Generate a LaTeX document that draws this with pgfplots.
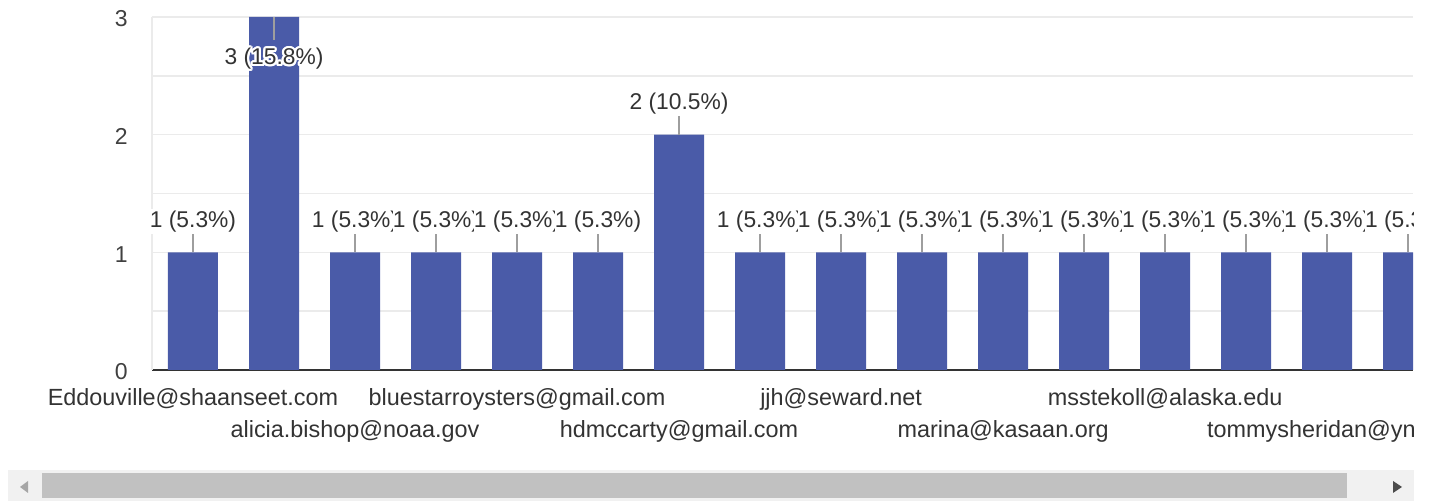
\documentclass[border=0pt]{standalone}
\usepackage{fontspec}
\setmainfont{Liberation Sans}
\usepackage{pgfplots}
\pgfplotsset{compat=1.18}
\usepackage{contour}
\contourlength{1.1pt}
\definecolor{barblue}{HTML}{4A5BA8}
\definecolor{gridgray}{HTML}{EBEBEB}
\definecolor{txt}{HTML}{333333}
\definecolor{leader}{HTML}{9E9E9E}
\definecolor{track}{HTML}{F1F1F1}
\definecolor{thumb}{HTML}{C1C1C1}
\begin{document}
\begin{tikzpicture}
\fill[white] (0pt,0pt) rectangle (716pt,251pt);
% scrollbar
\filldraw[fill=track, draw=gridgray!70, line width=0.4pt] (4pt,1pt) rectangle (706.5pt,16pt);
\fill[thumb] (21pt,2pt) rectangle (673.5pt,14.5pt);
\fill[black!35] (10pt,7.5pt) -- (14pt,10.5pt) -- (14pt,4.5pt) -- cycle;
\fill[black!70] (701pt,7.5pt) -- (696.5pt,10.5pt) -- (696.5pt,4.5pt) -- cycle;
\begin{scope}
\clip (0pt,0pt) rectangle (706.5pt,251pt);
\begin{axis}[
  at={(76pt,66pt)}, anchor=south west, scale only axis,
  width=630.5pt, height=176.5pt,
  xmin=-0.506, xmax=15.06, ymin=0, ymax=3,
  axis x line*=bottom, axis y line*=left,
  x axis line style={-, draw=txt, line width=0.8pt},
  y axis line style={-, draw=gridgray, line width=0.8pt},
  ytick={0,1,2,3}, minor y tick num=1,
  ymajorgrids, yminorgrids,
  major grid style={draw=gridgray, line width=0.8pt},
  minor grid style={draw=gridgray, line width=0.8pt},
  major tick length=0pt, minor tick length=0pt,
  /pgf/number format/assume math mode=true,
  yticklabel style={font=\fontsize{11.5}{13}\selectfont, text=black!75, anchor=east, inner sep=0pt, xshift=-12pt, yshift=-1pt},
  xtick={0,4,8,12},
  xticklabels={Eddouville@shaanseet.com, bluestarroysters@gmail.com, jjh@seward.net, msstekoll@alaska.edu},
  extra x ticks={2,6,10,14},
  extra x tick labels={alicia.bishop@noaa.gov, hdmccarty@gmail.com, marina@kasaan.org, \makebox[120pt][l]{tommysheridan@yn}},
  xticklabel style={font=\fontsize{11.7}{14}\selectfont, text=txt, anchor=base, inner sep=0pt, yshift=-18pt},
  extra x tick style={xticklabel style={yshift=-16pt}},
]
\addplot[ybar, bar width=25pt, bar shift=0pt, fill=barblue, draw=none]
  coordinates {(0,1) (1,3) (2,1) (3,1) (4,1) (5,1) (6,2) (7,1) (8,1) (9,1) (10,1) (11,1) (12,1) (13,1) (14,1) (15,1)};
% leader lines
\addplot[draw=none, mark=none, forget plot,
  error bars/.cd, y dir=both, y explicit, error mark=none,
  error bar style={draw=leader, line width=0.8pt}]
  coordinates {
  (0,1) += (0,0.187) -= (0,0)
  (1,3) += (0,0) -= (0,0.195)
  (2,1) += (0,0.187) -= (0,0)
  (3,1) += (0,0.187) -= (0,0)
  (4,1) += (0,0.187) -= (0,0)
  (5,1) += (0,0.187) -= (0,0)
  (6,2) += (0,0.187) -= (0,0)
  (7,1) += (0,0.187) -= (0,0)
  (8,1) += (0,0.187) -= (0,0)
  (9,1) += (0,0.187) -= (0,0)
  (10,1) += (0,0.187) -= (0,0)
  (11,1) += (0,0.187) -= (0,0)
  (12,1) += (0,0.187) -= (0,0)
  (13,1) += (0,0.187) -= (0,0)
  (14,1) += (0,0.187) -= (0,0)
  (15,1) += (0,0.187) -= (0,0)
  };
% labels above bars
\addplot[draw=none, mark=none, forget plot, nodes near coords, point meta=explicit symbolic,
  nodes near coords style={anchor=center, yshift=15.5pt, fill=white, inner xsep=0pt, inner ysep=1pt,
    font=\fontsize{11.4}{13}\selectfont, text=txt}]
  coordinates {
  (0,1) [1 (5.3\%)]
  (2,1) [1 (5.3\%)]
  (3,1) [1 (5.3\%)]
  (4,1) [1 (5.3\%)]
  (5,1) [1 (5.3\%)]
  (6,2) [2 (10.5\%)]
  (7,1) [1 (5.3\%)]
  (8,1) [1 (5.3\%)]
  (9,1) [1 (5.3\%)]
  (10,1) [1 (5.3\%)]
  (11,1) [1 (5.3\%)]
  (12,1) [1 (5.3\%)]
  (13,1) [1 (5.3\%)]
  (14,1) [1 (5.3\%)]
  (15,1) [1 (5.3\%)]
  };
% label inside the tallest bar
\addplot[draw=none, mark=none, forget plot, nodes near coords={\contour{white}{\pgfplotspointmeta}},
  point meta=explicit symbolic,
  nodes near coords style={anchor=center, yshift=-21.5pt, inner sep=0pt,
    font=\fontsize{11.4}{13}\selectfont, text=txt}]
  coordinates {(1,3) [3 (15.8\%)]};
\end{axis}
\end{scope}
\pgfresetboundingbox
\path[use as bounding box] (0pt,0pt) rectangle (716pt,251pt);
\end{tikzpicture}
\end{document}
